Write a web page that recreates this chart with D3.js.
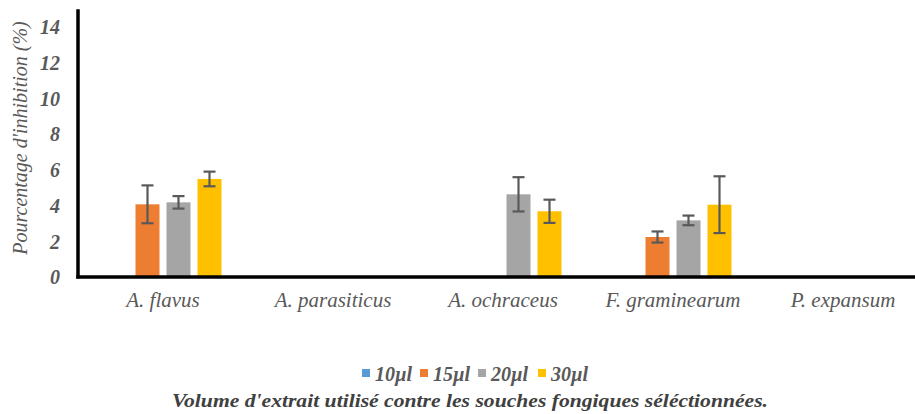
<!DOCTYPE html>
<html>
<head>
<meta charset="utf-8">
<script src="https://cdn.jsdelivr.net/npm/d3@7/dist/d3.min.js"></script>
<style>
  html, body { margin: 0; padding: 0; background: #fff; }
  svg { display: block; }
</style>
</head>
<body>
<div id="chart"></div>
<script>
// Souches fongiques testées
const categories = ["A. flavus", "A. parasiticus", "A. ochraceus", "F. graminearum", "P. expansum"];
// Volumes d'extrait (séries)
const seriesNames = ["10µl", "15µl", "20µl", "30µl"];
// Pourcentage d'inhibition moyen par volume
const values10 = [0, 0, 0, 0, 0];
const values15 = [4.07, 0, 0, 2.24, 0];
const values20 = [4.18, 0, 4.63, 3.17, 0];
const values30 = [5.49, 0, 3.68, 4.05, 0];
// Écarts-types (barres d'erreur)
const errors10 = [0, 0, 0, 0, 0];
const errors15 = [1.06, 0, 0, 0.31, 0];
const errors20 = [0.35, 0, 0.96, 0.27, 0];
const errors30 = [0.41, 0, 0.65, 1.59, 0];
const yTicks = [0, 2, 4, 6, 8, 10, 12, 14];
const colors = ["#5b9bd5", "#ed7d31", "#a5a5a5", "#ffc000"];

const allValues = [values10, values15, values20, values30];
const allErrors = [errors10, errors15, errors20, errors30];

const SERIF = '"Liberation Serif", "Times New Roman", serif';

const W = 915, H = 414;
const svg = d3.select("#chart").append("svg").attr("width", W).attr("height", H);

const plotLeft = 78, plotRight = 928, plotBottom = 277;

const x0 = d3.scaleBand().domain(categories).range([plotLeft, plotRight]).paddingInner(0).paddingOuter(0);
const x1 = d3.scaleBand().domain(seriesNames).range([26.5, 143.5]).paddingInner(7 / 31).paddingOuter(0);
const y = d3.scaleLinear().domain([0, 15]).range([plotBottom, plotBottom - 15 * (250 / 14)]);

// Barres
const rows = [];
categories.forEach((c, i) => {
  seriesNames.forEach((s, j) => {
    rows.push({ cat: c, ser: s, idx: j, v: allValues[j][i], e: allErrors[j][i] });
  });
});

const g = svg.append("g");
g.selectAll("rect.bar")
  .data(rows.filter(d => d.v > 0))
  .join("rect")
  .attr("class", "bar")
  .attr("x", d => x0(d.cat) + x1(d.ser))
  .attr("width", x1.bandwidth())
  .attr("y", d => y(d.v))
  .attr("height", d => y(0) - y(d.v))
  .attr("fill", d => colors[d.idx]);

// Barres d'erreur
const errG = g.selectAll("g.err")
  .data(rows.filter(d => d.v > 0 && d.e > 0))
  .join("g")
  .attr("class", "err")
  .attr("stroke", "#595959")
  .attr("stroke-width", 2.2);
errG.append("line")
  .attr("x1", d => x0(d.cat) + x1(d.ser) + x1.bandwidth() / 2)
  .attr("x2", d => x0(d.cat) + x1(d.ser) + x1.bandwidth() / 2)
  .attr("y1", d => y(d.v + d.e))
  .attr("y2", d => y(d.v - d.e));
[1, -1].forEach(sign => {
  errG.append("line")
    .attr("x1", d => x0(d.cat) + x1(d.ser) + x1.bandwidth() / 2 - 6)
    .attr("x2", d => x0(d.cat) + x1(d.ser) + x1.bandwidth() / 2 + 6)
    .attr("y1", d => y(d.v + sign * d.e))
    .attr("y2", d => y(d.v + sign * d.e));
});

// Axe Y
const yAxis = d3.axisLeft(y).tickValues(yTicks).tickSize(0).tickPadding(18);
const yg = svg.append("g").attr("transform", `translate(${plotLeft},0)`).call(yAxis);
yg.select(".domain").remove();
yg.selectAll(".tick text")
  .style("fill", "#595959")
  .style("font-family", SERIF)
  .style("font-style", "italic")
  .style("font-weight", "bold")
  .style("font-size", "20px")
  .attr("dy", "0.34em");

svg.append("line")
  .attr("x1", plotLeft).attr("x2", plotLeft)
  .attr("y1", y(15)).attr("y2", y(0) + 1.5)
  .attr("stroke", "#000").attr("stroke-width", 3.5);

// Axe X
const xAxis = d3.axisBottom(x0).tickSize(0).tickPadding(15);
const xg = svg.append("g").attr("transform", `translate(0,${plotBottom})`).call(xAxis);
xg.select(".domain").remove();
xg.selectAll(".tick text")
  .style("fill", "#595959")
  .style("font-family", SERIF)
  .style("font-style", "italic")
  .style("font-size", "21px")
  .attr("dy", "0.71em");

svg.append("line")
  .attr("x1", plotLeft - 1.75).attr("x2", plotRight)
  .attr("y1", y(0)).attr("y2", y(0))
  .attr("stroke", "#000").attr("stroke-width", 3.5);

// Titre de l'axe Y
svg.append("text")
  .attr("transform", `translate(27,138) rotate(-90)`)
  .attr("text-anchor", "middle")
  .style("fill", "#595959")
  .style("font-family", SERIF)
  .style("font-style", "italic")
  .style("font-size", "20px")
  .text("Pourcentage d'inhibition (%)");

// Légende
const legendX = [362, 420, 478, 538];
const leg = svg.append("g").selectAll("g").data(seriesNames).join("g")
  .attr("transform", (d, i) => `translate(${legendX[i]},369)`);
leg.append("rect").attr("width", 8).attr("height", 8).attr("fill", (d, i) => colors[i]);
leg.append("text")
  .attr("x", 13).attr("y", 12)
  .style("fill", "#595959")
  .style("font-family", SERIF)
  .style("font-style", "italic")
  .style("font-weight", "bold")
  .style("font-size", "20px")
  .text(d => d);

// Titre de l'axe X
svg.append("text")
  .attr("x", 470).attr("y", 407)
  .attr("text-anchor", "middle")
  .attr("textLength", 596)
  .attr("lengthAdjust", "spacingAndGlyphs")
  .style("fill", "#404040")
  .style("font-family", SERIF)
  .style("font-style", "italic")
  .style("font-weight", "bold")
  .style("font-size", "19px")
  .text("Volume d'extrait utilisé contre les souches fongiques séléctionnées.");
</script>
</body>
</html>
